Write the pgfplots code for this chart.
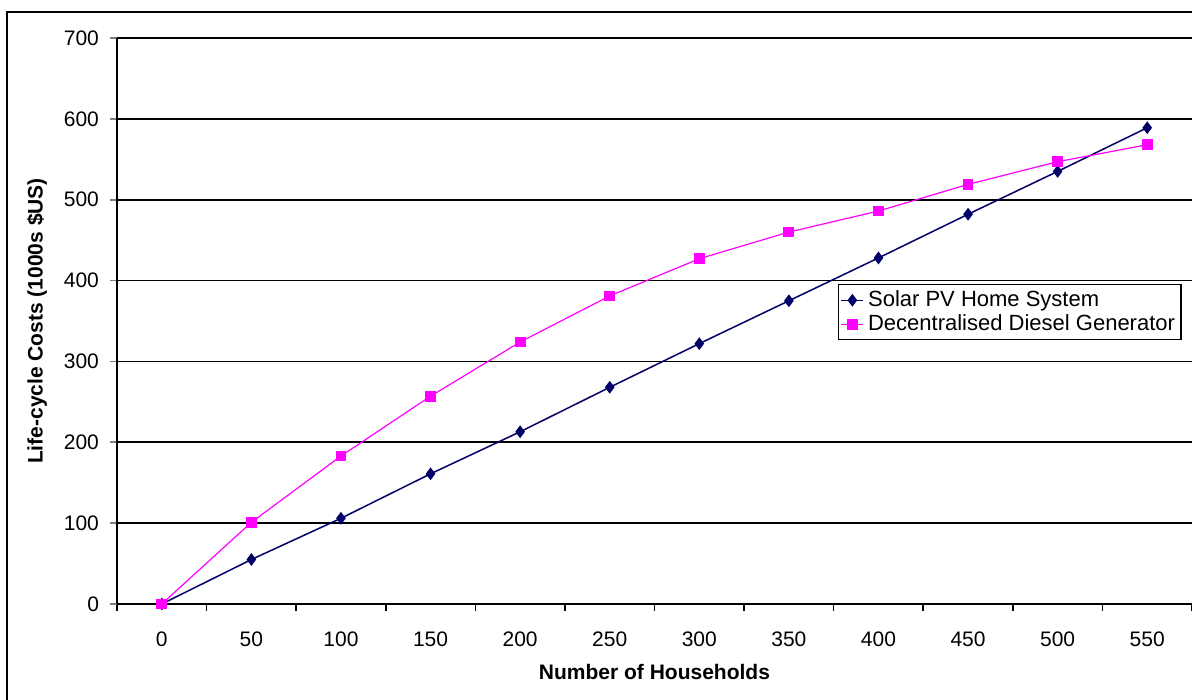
\documentclass[border=0pt]{standalone}
\usepackage{pgfplots}
\pgfplotsset{compat=1.18}
\usepackage{fontspec}
\setmainfont{Liberation Sans}

\definecolor{solar}{HTML}{000066}
\definecolor{diesel}{HTML}{FF00FF}

\begin{document}
\begin{tikzpicture}
% outer chart frame (right and bottom edges fall outside the page)
\draw[line width=1.1pt] (3.5pt,-20pt) -- (3.5pt,344pt) -- (620pt,344pt);
\begin{axis}[
  at={(58.5pt,48pt)}, anchor=south west,
  scale only axis,
  width=537.5pt, height=283pt,
  xmin=-25, xmax=575,
  ymin=0, ymax=700,
  axis x line=bottom, axis y line=left,
  axis line style={-, line width=0.8pt},
  xtick={0,50,...,550},
  minor xtick={-25,25,...,575},
  ytick={0,100,...,700},
  tick align=outside,
  major tick length=3.5pt,
  minor tick length=3.5pt,
  x tick style={draw=none},
  minor x tick style={draw=black, line width=0.8pt},
  y tick style={line width=0.8pt},
  ymajorgrids,
  major grid style={draw=black, line width=0.9pt},
  /pgf/number format/assume math mode=true,
  tick label style={font=\fontsize{10.5}{12}\selectfont},
  xticklabel style={yshift=-7pt},
  yticklabel style={xshift=-2pt},
  xlabel={Number of Households},
  ylabel={Life-cycle Costs (1000s \$US)},
  label style={font=\fontsize{10.5}{12}\selectfont\bfseries},
  xlabel style={at={(axis description cs:0.5,-0.120)}, anchor=center},
  ylabel style={at={(axis description cs:-0.0744,0.5)}, anchor=center, rotate=0},
  legend style={at={(0.6707,0.565)}, anchor=north west,
    draw=black, line width=0.6pt, fill=white,
    font=\fontsize{11}{12}\selectfont,
    inner sep=1pt, row sep=-1.5pt},
  legend cell align=left,
  legend image code/.code={%
    \draw[mark repeat=2, mark phase=2] plot coordinates {(0pt,0pt) (5.5pt,0pt) (11pt,0pt)};},
]
\addplot[color=solar, line width=0.75pt, mark=diamond*, mark size=2.6pt,
  mark options={solid, fill=solar}] coordinates {
  (0,0) (50,55) (100,106) (150,161) (200,213) (250,268)
  (300,322) (350,375) (400,428) (450,482) (500,535) (550,589)};
\addplot[color=diesel, line width=0.6pt, mark=square*, mark size=2.4pt,
  mark options={solid, fill=diesel}] coordinates {
  (0,0) (50,101) (100,183) (150,257) (200,324) (250,381)
  (300,427) (350,460) (400,486) (450,519) (500,547) (550,568)};
\legend{Solar PV Home System, Decentralised Diesel Generator}
\end{axis}
\pgfresetboundingbox
\useasboundingbox (0,0) rectangle (596pt,350pt);
\end{tikzpicture}
\end{document}
